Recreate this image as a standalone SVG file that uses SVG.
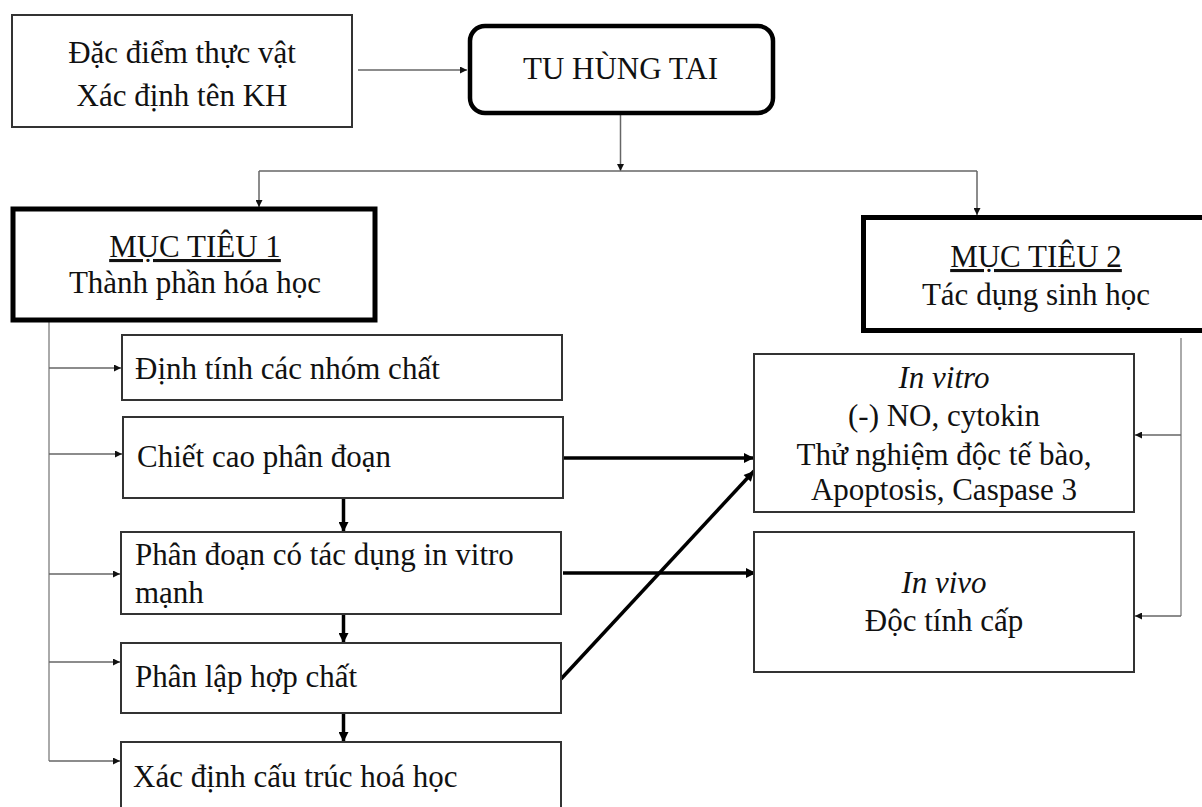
<svg xmlns="http://www.w3.org/2000/svg" width="1202" height="807" viewBox="0 0 1202 807">
<style>
text{font-family:"Liberation Serif","Times New Roman",serif;font-size:31px;fill:#111}
.c{text-anchor:middle}
.u{text-decoration:underline}
.i{font-style:italic}
.box{fill:#fff;stroke:#333;stroke-width:2}
.heavy{fill:#fff;stroke:#000;stroke-width:5}
.thin{fill:none;stroke:#666;stroke-width:1.5}
.light{fill:none;stroke:#aaa;stroke-width:2}
.thick{fill:none;stroke:#000;stroke-width:3.5}
</style>
<defs>
<marker id="a" viewBox="0 0 10 10" refX="10" refY="5" markerWidth="8" markerHeight="7" markerUnits="userSpaceOnUse" orient="auto"><path d="M0,0 L10,5 L0,10 z" fill="#111"/></marker>
<marker id="b" viewBox="0 0 10 10" refX="10" refY="5" markerWidth="12" markerHeight="10" markerUnits="userSpaceOnUse" orient="auto"><path d="M0,0 L10,5 L0,10 z" fill="#000"/></marker>
</defs>
<rect width="1202" height="807" fill="#fff"/>
<g id="connectors">
<path class="thin" d="M358,70 H467" marker-end="url(#a)"/>
<path class="thin" d="M620.5,115 V171" marker-end="url(#a)"/>
<path class="thin" d="M259,171 H977"/>
<path class="thin" d="M259,171 V207" marker-end="url(#a)"/>
<path class="thin" d="M977,171 V215" marker-end="url(#a)"/>
<path class="light" d="M49,322 V761"/>
<path class="thin" d="M49,368 H121" marker-end="url(#a)"/>
<path class="thin" d="M49,454 H122" marker-end="url(#a)"/>
<path class="thin" d="M49,574 H120" marker-end="url(#a)"/>
<path class="thin" d="M49,662 H120" marker-end="url(#a)"/>
<path class="thin" d="M49,761 H120" marker-end="url(#a)"/>
<path class="light" d="M1181,338 V616"/>
<path class="thin" d="M1181,435 H1135" marker-end="url(#a)"/>
<path class="thin" d="M1181,616 H1135" marker-end="url(#a)"/>
<path class="thick" d="M563,458 H754" marker-end="url(#b)"/>
<path class="thick" d="M563,573 H756" marker-end="url(#b)"/>
<path class="thick" d="M561,679 L754,471" marker-end="url(#b)"/>
<path class="thick" d="M343.5,498 V532" marker-end="url(#b)"/>
<path class="thick" d="M343.5,614 V643" marker-end="url(#b)"/>
<path class="thick" d="M343.5,713 V742" marker-end="url(#b)"/>
</g>
<g id="n-dacdiem">
<rect class="box" x="12" y="15" width="340" height="112"/>
<text class="c" x="182" y="63">Đặc điểm thực vật</text>
<text class="c" x="182" y="106">Xác định tên KH</text>
</g>
<g id="n-tuhungtai">
<rect x="470" y="26" width="303" height="87" rx="15" fill="#fff" stroke="#000" stroke-width="4.5"/>
<text class="c" x="620.5" y="79">TU HÙNG TAI</text>
</g>
<g id="n-muctieu1">
<rect class="heavy" x="13" y="209" width="362" height="111"/>
<text class="c u" x="195" y="257">MỤC TIÊU 1</text>
<text class="c" x="195" y="293">Thành phần hóa học</text>
</g>
<g id="n-muctieu2">
<rect class="heavy" x="863.5" y="217.5" width="360" height="113"/>
<text class="c u" x="1036" y="267">MỤC TIÊU 2</text>
<text class="c" x="1036" y="305">Tác dụng sinh học</text>
</g>
<g id="n-dinhtinh">
<rect class="box" x="122" y="335" width="440" height="65"/>
<text x="135" y="379">Định tính các nhóm chất</text>
</g>
<g id="n-chietcao">
<rect class="box" x="123" y="417" width="440" height="81"/>
<text x="137" y="467">Chiết cao phân đoạn</text>
</g>
<g id="n-phandoan">
<rect class="box" x="121" y="532" width="440" height="82"/>
<text x="135" y="565">Phân đoạn có tác dụng in vitro</text>
<text x="135" y="603">mạnh</text>
</g>
<g id="n-phanlap">
<rect class="box" x="121" y="643" width="440" height="70"/>
<text x="135" y="687">Phân lập hợp chất</text>
</g>
<g id="n-xacdinh">
<rect class="box" x="121" y="742" width="440" height="90"/>
<text x="133" y="787">Xác định cấu trúc hoá học</text>
</g>
<g id="n-invitro">
<rect class="box" x="754" y="354" width="380" height="158"/>
<text class="c i" x="944" y="388">In vitro</text>
<text class="c" x="944" y="426">(-) NO, cytokin</text>
<text class="c" x="944" y="465">Thử nghiệm độc tế bào,</text>
<text class="c" x="944" y="500">Apoptosis, Caspase 3</text>
</g>
<g id="n-invivo">
<rect class="box" x="754" y="532" width="380" height="140"/>
<text class="c i" x="944" y="593">In vivo</text>
<text class="c" x="944" y="631">Độc tính cấp</text>
</g>
</svg>
